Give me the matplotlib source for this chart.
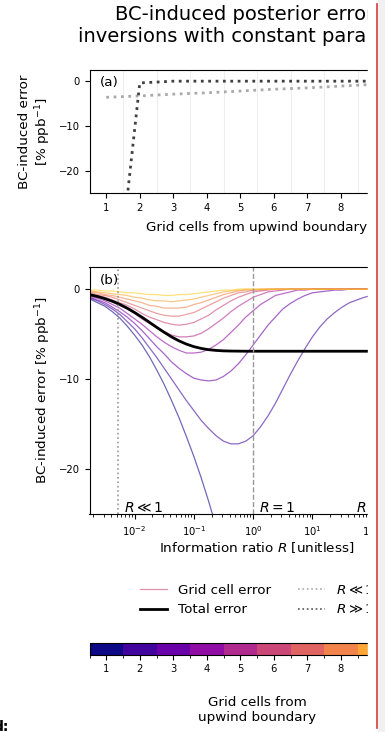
import numpy as np
import matplotlib
matplotlib.use('Agg')
import matplotlib.pyplot as plt
from matplotlib.colors import ListedColormap, BoundaryNorm
from matplotlib.cm import ScalarMappable
from matplotlib.lines import Line2D
from matplotlib.patches import Rectangle

# ---------------- data ----------------
cells = [1, 2, 3, 4, 5, 6, 7, 8, 9, 10]
err_R_small = [-3.6, -3.3, -2.9, -2.6, -2.2, -1.8, -1.5, -1.1, -0.7, -0.4]
err_R_large = [-68.6, -0.4, 0.0, 0.0, 0.0, 0.0, 0.0, 0.0, 0.0, 0.0]

log10_R = [-2.75, -2.625, -2.5, -2.375, -2.25, -2.125, -2.0, -1.875, -1.75, -1.625,
           -1.5, -1.375, -1.25, -1.125, -1.0, -0.875, -0.75, -0.625, -0.5, -0.375,
           -0.25, -0.125, 0.0, 0.125, 0.25, 0.375, 0.5, 0.625, 0.75, 0.875,
           1.0, 1.125, 1.25, 1.375, 1.5, 1.625, 1.75, 1.875, 2.0, 2.125,
           2.25, 2.375, 2.5, 2.625, 2.75, 2.875, 3.0]

cell1 = [-1.1, -1.5, -1.9, -2.5, -3.2, -4.1, -5.1, -6.2, -7.5, -9.0,
         -10.6, -12.4, -14.3, -16.4, -18.6, -21.0, -23.6, -26.4, -29.4, -32.6,
         -35.9, -39.2, -42.6, -46.0, -49.2, -52.3, -55.1, -57.6, -59.8, -61.7,
         -63.2, -64.5, -65.5, -66.3, -66.9, -67.4, -67.8, -68.1, -68.3, -68.5,
         -68.6, -68.7, -68.8, -68.8, -68.9, -68.9, -68.9]
cell2 = [-1.0, -1.3, -1.7, -2.2, -2.8, -3.6, -4.4, -5.4, -6.5, -7.6,
         -8.8, -10.0, -11.2, -12.4, -13.5, -14.6, -15.5, -16.3, -16.9, -17.2,
         -17.2, -16.9, -16.3, -15.3, -14.1, -12.7, -11.1, -9.5, -8.0, -6.6,
         -5.3, -4.2, -3.3, -2.6, -2.0, -1.5, -1.2, -0.9, -0.7, -0.5,
         -0.4, -0.3, -0.2, -0.2, -0.1, -0.1, -0.1]
cell3 = [-0.9, -1.2, -1.5, -2.0, -2.5, -3.1, -3.8, -4.6, -5.5, -6.4,
         -7.2, -8.1, -8.8, -9.4, -9.9, -10.1, -10.2, -10.1, -9.7, -9.1,
         -8.3, -7.3, -6.2, -5.1, -4.0, -3.1, -2.2, -1.6, -1.1, -0.7,
         -0.4, -0.3, -0.2, -0.1, -0.1, 0.0, 0.0, 0.0, 0.0, 0.0,
         0.0, 0.0, 0.0, 0.0, 0.0, 0.0, 0.0]
cell4 = [-0.8, -1.0, -1.3, -1.7, -2.1, -2.7, -3.3, -3.9, -4.6, -5.3,
         -5.9, -6.4, -6.8, -7.1, -7.1, -7.0, -6.7, -6.2, -5.6, -4.8,
         -4.0, -3.1, -2.4, -1.7, -1.2, -0.7, -0.5, -0.3, -0.1, -0.1,
         0.0, 0.0, 0.0, 0.0, 0.0, 0.0, 0.0, 0.0, 0.0, 0.0,
         0.0, 0.0, 0.0, 0.0, 0.0, 0.0, 0.0]
cell5 = [-0.7, -0.9, -1.1, -1.4, -1.8, -2.2, -2.7, -3.3, -3.8, -4.3,
         -4.7, -5.1, -5.3, -5.3, -5.2, -4.9, -4.4, -3.8, -3.2, -2.5,
         -1.9, -1.4, -0.9, -0.6, -0.3, -0.2, -0.1, 0.0, 0.0, 0.0,
         0.0, 0.0, 0.0, 0.0, 0.0, 0.0, 0.0, 0.0, 0.0, 0.0,
         0.0, 0.0, 0.0, 0.0, 0.0, 0.0, 0.0]
cell6 = [-0.6, -0.7, -0.9, -1.2, -1.5, -1.8, -2.2, -2.7, -3.1, -3.4,
         -3.7, -3.9, -4.0, -3.9, -3.7, -3.3, -2.9, -2.3, -1.8, -1.3,
         -0.9, -0.6, -0.3, -0.2, -0.1, 0.0, 0.0, 0.0, 0.0, 0.0,
         0.0, 0.0, 0.0, 0.0, 0.0, 0.0, 0.0, 0.0, 0.0, 0.0,
         0.0, 0.0, 0.0, 0.0, 0.0, 0.0, 0.0]
cell7 = [-0.4, -0.6, -0.7, -0.9, -1.2, -1.5, -1.8, -2.1, -2.4, -2.7,
         -2.9, -3.0, -3.0, -2.8, -2.6, -2.2, -1.8, -1.4, -1.0, -0.7,
         -0.4, -0.3, -0.1, -0.1, 0.0, 0.0, 0.0, 0.0, 0.0, 0.0,
         0.0, 0.0, 0.0, 0.0, 0.0, 0.0, 0.0, 0.0, 0.0, 0.0,
         0.0, 0.0, 0.0, 0.0, 0.0, 0.0, 0.0]
cell8 = [-0.3, -0.4, -0.6, -0.7, -0.9, -1.1, -1.3, -1.5, -1.8, -1.9,
         -2.1, -2.1, -2.1, -2.0, -1.7, -1.5, -1.2, -0.9, -0.6, -0.4,
         -0.2, -0.1, -0.1, 0.0, 0.0, 0.0, 0.0, 0.0, 0.0, 0.0,
         0.0, 0.0, 0.0, 0.0, 0.0, 0.0, 0.0, 0.0, 0.0, 0.0,
         0.0, 0.0, 0.0, 0.0, 0.0, 0.0, 0.0]
cell9 = [-0.2, -0.3, -0.4, -0.5, -0.6, -0.7, -0.9, -1.0, -1.2, -1.3,
         -1.3, -1.4, -1.3, -1.2, -1.1, -0.9, -0.7, -0.5, -0.3, -0.2,
         -0.1, 0.0, 0.0, 0.0, 0.0, 0.0, 0.0, 0.0, 0.0, 0.0,
         0.0, 0.0, 0.0, 0.0, 0.0, 0.0, 0.0, 0.0, 0.0, 0.0,
         0.0, 0.0, 0.0, 0.0, 0.0, 0.0, 0.0]
cell10 = [-0.1, -0.1, -0.2, -0.2, -0.3, -0.4, -0.4, -0.5, -0.6, -0.6,
          -0.7, -0.7, -0.6, -0.6, -0.5, -0.4, -0.3, -0.2, -0.1, -0.1,
          0.0, 0.0, 0.0, 0.0, 0.0, 0.0, 0.0, 0.0, 0.0, 0.0,
          0.0, 0.0, 0.0, 0.0, 0.0, 0.0, 0.0, 0.0, 0.0, 0.0,
          0.0, 0.0, 0.0, 0.0, 0.0, 0.0, 0.0]
total_err = [-0.62, -0.81, -1.05, -1.34, -1.69, -2.11, -2.59, -3.12, -3.68, -4.25,
             -4.80, -5.31, -5.75, -6.11, -6.39, -6.59, -6.73, -6.81, -6.86, -6.88,
             -6.89, -6.90, -6.90, -6.90, -6.90, -6.90, -6.90, -6.90, -6.90, -6.90,
             -6.90, -6.90, -6.90, -6.90, -6.90, -6.90, -6.90, -6.90, -6.90, -6.90,
             -6.90, -6.90, -6.90, -6.90, -6.90, -6.90, -6.90]
cell_series = [cell1, cell2, cell3, cell4, cell5, cell6, cell7, cell8, cell9, cell10]

R_small_line = 0.00526
R_large_line = 190.0

# ---------------- figure ----------------
W, H = 385, 732
fig = plt.figure(figsize=(3.85, 7.32), dpi=100)
def fx(px): return px / W
def fy(py): return 1 - py / H

R = 10.0 ** np.array(log10_R)
cmap = ListedColormap(plt.get_cmap('plasma')(np.arange(10) / 10))
cols = cmap(np.arange(10))

left, wid = 89.5, 335
axa = fig.add_axes([fx(left), fy(193), wid / W, (193 - 70) / H])
axb = fig.add_axes([fx(left), fy(514), wid / W, (514 - 266.7) / H])
cax = fig.add_axes([fx(left), fy(654.5), wid / W, 11.5 / H])

# panel (a)
axa.plot(cells, err_R_small, ':', color='#aaaaaa', lw=2)
axa.plot(cells, err_R_large, ':', color='#404040', lw=2)
axa.set_xlim(0.5, 10.5)
axa.set_ylim(-25, 2.5)
axa.set_xticks(cells)
axa.set_xticks(np.arange(1.5, 10.5, 1), minor=True)
axa.grid(which='minor', axis='x', color='#eeeeee', lw=0.8)
axa.tick_params(which='minor', length=0)
axa.set_yticks([0, -10, -20])
axa.set_xlabel('Grid cells from upwind boundary', fontsize=9.7, labelpad=6)
axa.set_ylabel('BC-induced error\n[% ppb$^{-1}$]', fontsize=9.7)
axa.text(0.03, 0.95, '(a)', transform=axa.transAxes, va='top', fontsize=9.7)

# panel (b)
for i, ser in enumerate(cell_series):
    axb.plot(R, ser, color=cols[i], lw=0.9, alpha=0.6)
axb.plot(R, total_err, color='k', lw=2)
axb.set_xscale('log')
axb.set_xlim(10 ** -2.76, 10 ** 2.89)
axb.set_ylim(-25, 2.5)
axb.set_yticks([0, -10, -20])
axb.axvline(R_small_line, color='#999999', ls=':', lw=1.2)
axb.axvline(1, color='#999999', ls='--', lw=1)
axb.axvline(R_large_line, color='#555555', ls=':', lw=1.2)
for xv, s in [(0.0066, r'$R \ll 1$'), (1.25, r'$R = 1$'), (55, r'$R \gg 1$')]:
    axb.text(xv, -24.8, s, fontsize=10, va='baseline')
axb.set_xlabel('Information ratio $R$ [unitless]', fontsize=9.7, labelpad=2)
axb.set_ylabel('BC-induced error [% ppb$^{-1}$]', fontsize=9.7)
axb.text(0.03, 0.97, '(b)', transform=axb.transAxes, va='top', fontsize=9.7)

for ax in (axa, axb):
    ax.tick_params(labelsize=7.2)

handles = [Line2D([], [], color=cols[5], lw=0.9, alpha=0.6),
           Line2D([], [], color='k', lw=2),
           Line2D([], [], color='#aaaaaa', ls=':', lw=1.2),
           Line2D([], [], color='#555555', ls=':', lw=1.2)]
labels = ['Grid cell error', 'Total error', r'$R \ll 1$', r'$R \gg 1$']
fig.legend(handles, labels, loc='center', bbox_to_anchor=(257 / W, fy(600)),
           ncol=2, frameon=False, fontsize=9.7)

cb = fig.colorbar(ScalarMappable(norm=BoundaryNorm(np.arange(0.5, 11.5, 1), 10), cmap=cmap),
                  cax=cax, orientation='horizontal', ticks=cells)
cb.ax.tick_params(labelsize=7.2)
cb.set_label('Grid cells from\nupwind boundary', fontsize=9.7, labelpad=16)

fig.text(257 / W, fy(26), 'BC-induced posterior error in\ninversions with constant parameters',
         ha='center', va='center', fontsize=14)

# page frame around the clipped figure
fig.add_artist(Rectangle((368 / W, 0), 9 / W, 1, transform=fig.transFigure, color='white', zorder=20))
fig.add_artist(Rectangle((377.5 / W, 0), 8 / W, 1, transform=fig.transFigure, color='#f0f0f0', zorder=20))
fig.add_artist(Line2D([376.8 / W] * 2, [0.005, 0.995], transform=fig.transFigure,
                      color='#d63a3a', lw=1.2, zorder=21))
fig.text(-6.5 / W, fy(731), 'd:', fontweight='bold', fontsize=10, va='baseline')

fig.savefig('out.png', dpi=100)
